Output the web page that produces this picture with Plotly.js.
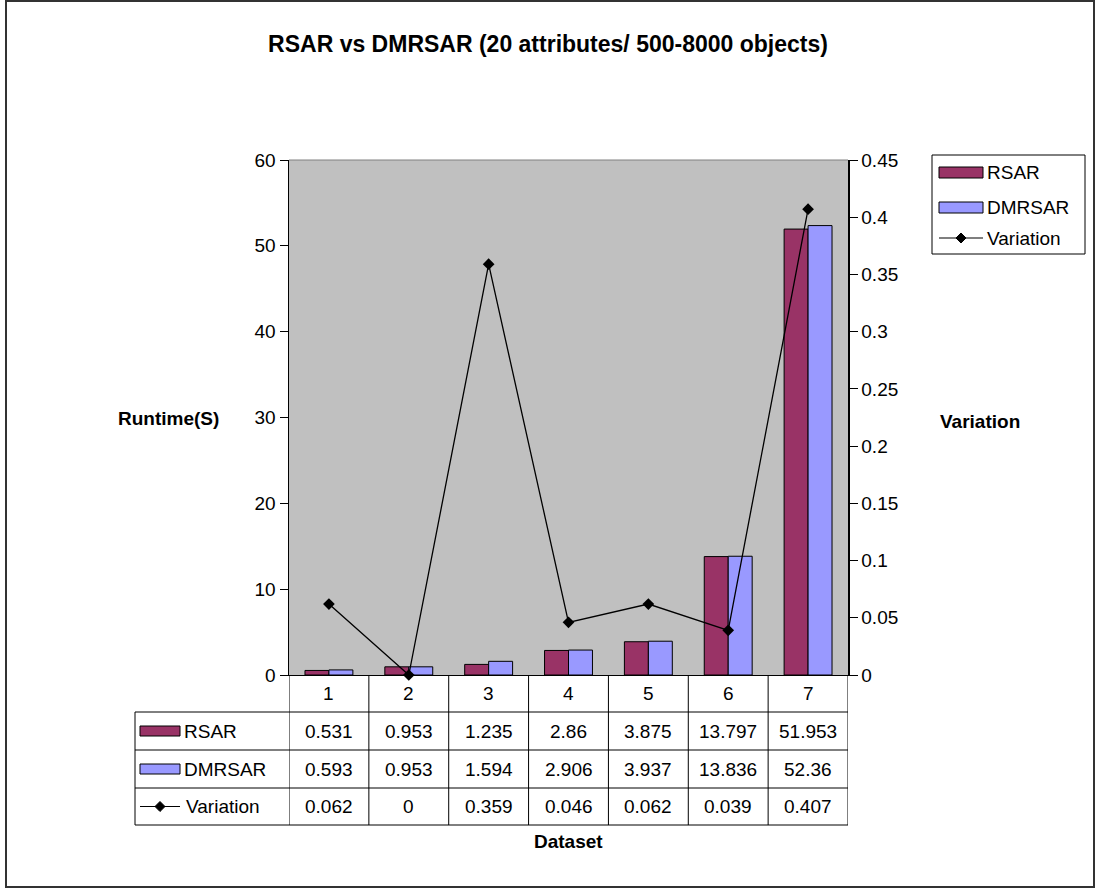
<!DOCTYPE html>
<html>
<head>
<meta charset="utf-8">
<script src="https://cdn.plot.ly/plotly-3.0.1.min.js"></script>
<style>
  html, body { margin: 0; padding: 0; background: #ffffff; }
  #chart { width: 1097px; height: 890px; }
</style>
</head>
<body>
<div id="chart"></div>
<script>
// Runtime per dataset (seconds) and relative variation between the two algorithms
const categories = ['1', '2', '3', '4', '5', '6', '7'];
const rsar = [0.531, 0.953, 1.235, 2.86, 3.875, 13.797, 51.953];
const dmrsar = [0.593, 0.953, 1.594, 2.906, 3.937, 13.836, 52.36];
const variation = [0.062, 0, 0.359, 0.046, 0.062, 0.039, 0.407];
const seriesNames = ['RSAR', 'DMRSAR', 'Variation'];

const W = 1097, H = 890;
// plot area in pixels
const PL = 289, PR = 848, PT = 160, PB = 675;
const px = v => (v - PL) / (PR - PL);   // pixel -> paper x
const py = v => (PB - v) / (PB - PT);   // pixel -> paper y

const FONT = 'Liberation Sans, Arial, sans-serif';
const TXT = 19;                         // body text size
const RSAR_COLOR = '#993366';
const DMRSAR_COLOR = '#9999ff';

const traces = [
  {
    type: 'bar', name: seriesNames[0], x: categories, y: rsar,
    marker: { color: RSAR_COLOR, line: { color: '#000', width: 1 } },
    showlegend: false, hoverinfo: 'y'
  },
  {
    type: 'bar', name: seriesNames[1], x: categories, y: dmrsar,
    marker: { color: DMRSAR_COLOR, line: { color: '#000', width: 1 } },
    showlegend: false, hoverinfo: 'y'
  },
  {
    type: 'scatter', mode: 'lines+markers', name: seriesNames[2],
    x: categories, y: variation, yaxis: 'y2',
    line: { color: '#000', width: 1.3 },
    marker: { symbol: 'diamond', size: 9, color: '#000' },
    showlegend: false, cliponaxis: false, hoverinfo: 'y'
  }
];

const shapes = [];
const annotations = [];

function line(x0, y0, x1, y1, color, width) {
  shapes.push({ type: 'line', xref: 'paper', yref: 'paper',
    x0: px(x0), y0: py(y0), x1: px(x1), y1: py(y1),
    line: { color: color || '#000', width: width || 1 } });
}
function rect(x0, y0, x1, y1, fill, lineColor, width) {
  shapes.push({ type: 'rect', xref: 'paper', yref: 'paper',
    x0: px(x0), y0: py(y0), x1: px(x1), y1: py(y1),
    fillcolor: fill || 'rgba(0,0,0,0)',
    line: { color: lineColor || '#000', width: width === undefined ? 1 : width } });
}
function diamond(cx, cy, r) {
  const p = [[cx - r, cy], [cx, cy - r], [cx + r, cy], [cx, cy + r]]
    .map(([a, b]) => px(a).toFixed(5) + ',' + py(b).toFixed(5));
  shapes.push({ type: 'path', xref: 'paper', yref: 'paper',
    path: 'M' + p.join('L') + 'Z', fillcolor: '#000', line: { color: '#000', width: 1 } });
}
function text(t, x, y, opts) {
  annotations.push(Object.assign({
    text: t, xref: 'paper', yref: 'paper', x: px(x), y: py(y),
    showarrow: false, xanchor: 'center', yanchor: 'middle',
    font: { family: FONT, size: TXT, color: '#000' }
  }, opts || {}));
}
function cell(t, i, y) {
  annotations.push({ text: t, xref: 'x', yref: 'paper', x: i, y: py(y),
    xanchor: 'center', yanchor: 'middle', showarrow: false,
    font: { family: FONT, size: TXT, color: '#000' } });
}

// outer frame of the whole chart
rect(6, 1, 1094, 887, null, '#333', 2);

// thin grey border along the top of the plot area
line(PL, PT, PR, PT, '#808080', 1);

// ---- data table under the plot ----
const TL = 135;                         // left edge of the row-label column
const rowY = [675, 712, 750, 788, 825]; // row boundaries: header, RSAR, DMRSAR, Variation
// vertical separators between dataset columns
for (let i = 0; i <= categories.length; i++) {
  shapes.push({ type: 'line', xref: 'x', yref: 'paper',
    x0: i - 0.5, x1: i - 0.5, y0: py(rowY[0]), y1: py(rowY[4]),
    line: { color: '#000', width: 1 } });
}
line(TL, rowY[1], TL, rowY[4]);
for (let r = 1; r < rowY.length; r++) line(TL, rowY[r], PR, rowY[r]);

const mid = r => (rowY[r] + rowY[r + 1]) / 2;
// header: dataset numbers
categories.forEach((c, i) => cell(c, i, mid(0)));
// value rows
[rsar, dmrsar, variation].forEach((arr, r) => {
  arr.forEach((v, i) => cell(String(v), i, mid(r + 1)));
});
// row keys
rect(140, mid(1) - 5, 180, mid(1) + 5, RSAR_COLOR, '#000', 1);
text(seriesNames[0], 182, mid(1), { xanchor: 'left' });
rect(140, mid(2) - 5, 180, mid(2) + 5, DMRSAR_COLOR, '#000', 1);
text(seriesNames[1], 182, mid(2), { xanchor: 'left' });
line(140, mid(3), 180, mid(3), '#000', 1.2);
diamond(160, mid(3), 5);
text(seriesNames[2], 184, mid(3), { xanchor: 'left' });

// ---- legend box on the right ----
rect(932, 155, 1085, 254, '#fff', '#000', 1);
rect(939, 167, 983, 178, RSAR_COLOR, '#000', 1);
text(seriesNames[0], 985, 172.5, { xanchor: 'left' });
rect(939, 202, 983, 213, DMRSAR_COLOR, '#000', 1);
text(seriesNames[1], 985, 207.5, { xanchor: 'left' });
line(939, 238, 983, 238, '#000', 1.2);
diamond(961, 238, 5);
text(seriesNames[2], 985, 238, { xanchor: 'left' });

// axis titles
const boldFont = { family: FONT, size: 19, color: '#000' };
text('<b>Runtime(S)</b>', 168, 418, { font: boldFont });
text('<b>Variation</b>', 980, 421, { font: boldFont });
text('<b>Dataset</b>', 568, 841, { font: boldFont });

const layout = {
  width: W, height: H,
  margin: { l: PL, r: W - PR, t: PT, b: H - PB, pad: 0 },
  paper_bgcolor: '#ffffff',
  plot_bgcolor: '#c0c0c0',
  font: { family: FONT, size: TXT, color: '#000' },
  title: {
    text: '<b>RSAR vs DMRSAR (20 attributes/ 500-8000 objects)</b>',
    x: 548 / W, xref: 'container', xanchor: 'center',
    y: 1 - 44 / H, yref: 'container', yanchor: 'middle',
    font: { family: FONT, size: 23, color: '#000' }
  },
  barmode: 'group',
  bargap: 0.4,
  bargroupgap: 0,
  showlegend: false,
  xaxis: {
    type: 'category', range: [-0.5, 6.5],
    showticklabels: false, ticks: '', showgrid: false, zeroline: false,
    showline: true, linecolor: '#000', linewidth: 1
  },
  yaxis: {
    range: [0, 60], dtick: 10, tick0: 0,
    showgrid: false, zeroline: false,
    showline: true, linecolor: '#000', linewidth: 1.5,
    ticks: 'outside', ticklen: 8, tickcolor: '#000', tickwidth: 1,
    tickfont: { family: FONT, size: TXT, color: '#000' }
  },
  yaxis2: {
    overlaying: 'y', side: 'right',
    range: [0, 0.45], dtick: 0.05, tick0: 0,
    showgrid: false, zeroline: false,
    showline: true, linecolor: '#000', linewidth: 1.5,
    ticks: 'outside', ticklen: 8, tickcolor: '#000', tickwidth: 1,
    tickfont: { family: FONT, size: TXT, color: '#000' }
  },
  shapes: shapes,
  annotations: annotations
};

Plotly.newPlot('chart', traces, layout, { displayModeBar: false, staticPlot: true });
</script>
</body>
</html>
